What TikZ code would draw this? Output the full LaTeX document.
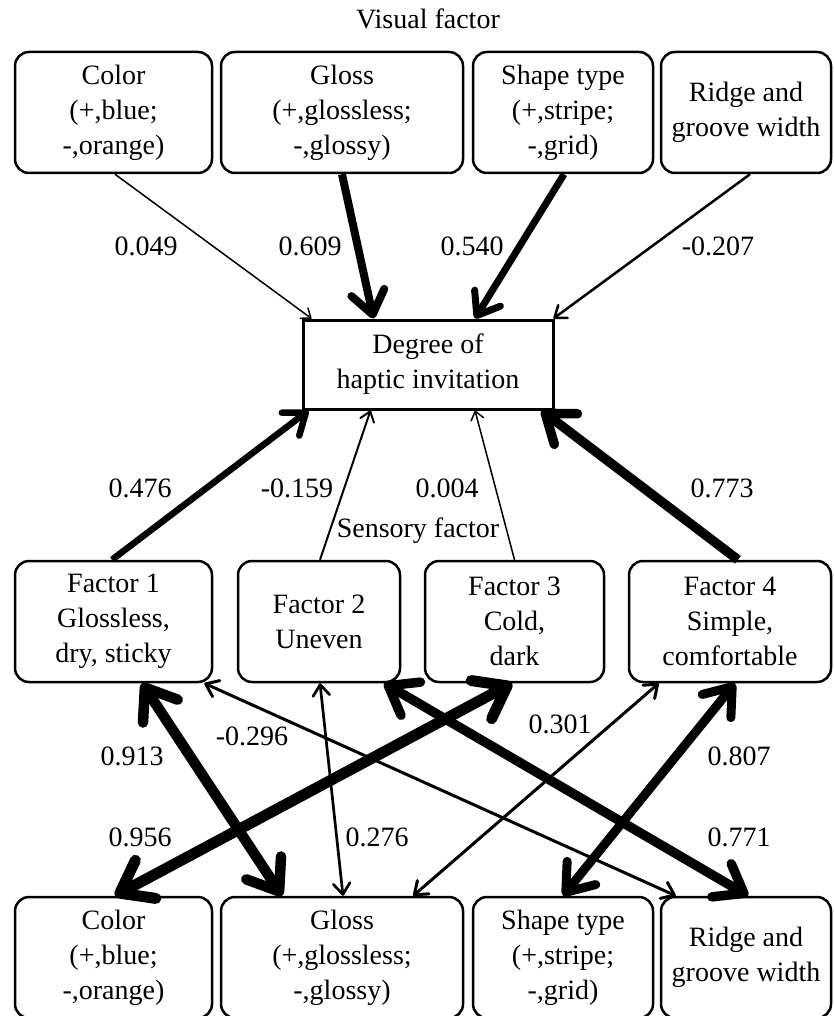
\documentclass[tikz,border=0pt]{standalone}
\usepackage{fontspec}
\setmainfont{Liberation Serif}
\usetikzlibrary{arrows.meta}
\begin{document}
\begin{tikzpicture}[x=1pt,y=-1pt,
  every node/.style={font=\fontsize{28}{35}\selectfont, inner sep=0pt},
  factorbox/.style={draw, line width=2.5pt, rounded corners=14pt, align=center, minimum height=121pt},
  outbox/.style={draw, line width=3pt, align=center, minimum width=250pt, minimum height=89pt},
  coef/.style={anchor=base},
  >={Straight Barb[round,length=5pt 2.2,width=8pt 3.2]}
]
\clip (0,0) rectangle (833,1016);

% group titles
\node[anchor=base] (vtitle) at (428,29) {Visual factor};
\node[anchor=base] (stitle) at (418,537) {Sensory factor};

% visual factors
\node[factorbox, minimum width=197pt] (vColor) at (113.5,112.5) {Color\\(+,blue;\\-,orange)};
\node[factorbox, minimum width=242pt] (vGloss) at (342,112.5) {Gloss\\(+,glossless;\\-,glossy)};
\node[factorbox, minimum width=180pt] (vShape) at (563,112.5) {Shape type\\(+,stripe;\\-,grid)};
\node[factorbox, minimum width=170pt] (vRidge) at (746,112.5) {Ridge and\\groove width};

% outcome
\node[outbox] (h) at (428,364.5) {Degree of\\haptic invitation};

% sensory factors
\node[factorbox, minimum width=197pt] (f1) at (113.5,621.5) {Factor 1\\Glossless,\\dry, sticky};
\node[factorbox, minimum width=162pt] (f2) at (319,621.5) {Factor 2\\Uneven};
\node[factorbox, minimum width=179pt] (f3) at (514.5,621.5) {Factor 3\\Cold,\\dark};
\node[factorbox, minimum width=202pt] (f4) at (730,621.5) {Factor 4\\Simple,\\comfortable};

% visual factors (lower row)
\node[factorbox, minimum width=197pt] (bColor) at (113.5,957.5) {Color\\(+,blue;\\-,orange)};
\node[factorbox, minimum width=242pt] (bGloss) at (342,957.5) {Gloss\\(+,glossless;\\-,glossy)};
\node[factorbox, minimum width=180pt] (bShape) at (563,957.5) {Shape type\\(+,stripe;\\-,grid)};
\node[factorbox, minimum width=170pt] (bRidge) at (746,957.5) {Ridge and\\groove width};

% visual factors -> outcome
\draw[->, line width=1.5pt] ([xshift=1.5pt]vColor.south) -- ([xshift=10pt]h.north west);
\draw[->, line width=8pt] (vGloss.south) -- ([xshift=72pt]h.north west);
\draw[->, line width=7pt] ([xshift=1pt]vShape.south) -- ([xshift=47pt]h.north);
\draw[->, line width=2.5pt] ([xshift=4pt]vRidge.south) -- ([xshift=-1pt]h.north east);

% sensory factors -> outcome
\draw[->, line width=6.5pt] ([xshift=-1.5pt]f1.north) -- ([xshift=7pt]h.south west);
\draw[->, line width=2pt] ([xshift=1pt]f2.north) -- ([xshift=69pt]h.south west);
\draw[->, line width=1.5pt] (f3.north) -- ([xshift=47pt]h.south);
\draw[->, line width=9.5pt] ([xshift=8pt]f4.north) -- ([xshift=-13pt]h.south east);

% correlations between sensory and visual factors
\draw[<->, line width=10.5pt] ([xshift=28.5pt]f1.south) -- ([xshift=-60pt]bGloss.north);
\draw[<->, line width=3pt] ([xshift=-9pt]f1.south east) -- ([xshift=16pt]bRidge.north west);
\draw[<->, line width=2.7pt] ([xshift=1pt]f2.south) -- ([xshift=1pt]bGloss.north);
\draw[<->, line width=9.5pt] ([xshift=-17pt]f2.south east) -- ([xshift=2pt]bRidge.north);
\draw[<->, line width=11pt] ([xshift=-2.5pt]f3.south) -- ([xshift=1.5pt]bColor.north);
\draw[<->, line width=3pt] ([xshift=31pt]f4.south west) -- ([xshift=-51pt]bGloss.north east);
\draw[<->, line width=9pt] ([xshift=5pt]f4.south) -- (bShape.north);

% coefficients
\node[coef] (c1) at (146,255) {0.049};
\node[coef] (c2) at (310,255) {0.609};
\node[coef] (c3) at (472,255) {0.540};
\node[coef] (c4) at (718,255) {-0.207};
\node[coef] (c5) at (140,497) {0.476};
\node[coef] (c6) at (297,497) {-0.159};
\node[coef] (c7) at (447,497) {0.004};
\node[coef] (c8) at (722,497) {0.773};
\node[coef] (c9) at (132,765) {0.913};
\node[coef] (c10) at (252,745) {-0.296};
\node[coef] (c11) at (140,846) {0.956};
\node[coef] (c12) at (377,846) {0.276};
\node[coef] (c13) at (560,733) {0.301};
\node[coef] (c14) at (739,765) {0.807};
\node[coef] (c15) at (739,846) {0.771};
\end{tikzpicture}
\end{document}
